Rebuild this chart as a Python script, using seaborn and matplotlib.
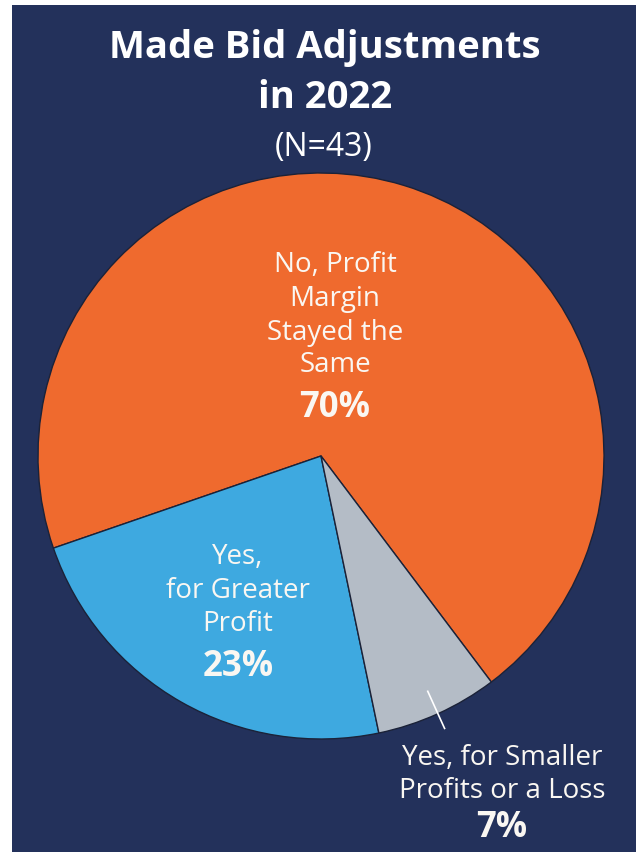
import matplotlib
matplotlib.use("Agg")
import matplotlib.pyplot as plt
import matplotlib.patches as mpatches
import numpy as np
import seaborn as sns

# Survey responses
categories = [
    "No, Profit Margin Stayed the Same",
    "Yes, for Greater Profit",
    "Yes, for Smaller Profits or a Loss",
]
shares = [70, 23, 7]
colors = ["#EF6A2E", "#3EA9E0", "#B4BCC6"]
title_lines = ["Made Bid Adjustments", "in 2022"]
subtitle = "(N=43)"

sns.set_theme(style="white")
plt.rcParams["font.family"] = ["Open Sans", "DejaVu Sans"]

NAVY = "#23315B"
W, H = 636, 852
fig = plt.figure(figsize=(W / 100, H / 100), dpi=100)
fig.patch.set_facecolor("white")

ax = fig.add_axes([0, 0, 1, 1])
ax.patch.set_alpha(0)


def py(y):
    # pixel row (from top) to data y
    return H - y


cx, cy, R = 321, py(456), 283
start = 307
wedges, _ = ax.pie(shares, colors=colors, startangle=start, counterclock=True,
                   center=(cx, cy), radius=R, frame=True,
                   wedgeprops=dict(edgecolor="#1B2238", linewidth=1.0))
ax.set_xlim(0, W)
ax.set_ylim(0, H)
ax.set_aspect("equal")
ax.axis("off")

# navy panel behind the pie
ax.add_patch(mpatches.Rectangle((12, 0), W - 12, H - 5, facecolor=NAVY,
                                edgecolor="none", zorder=0))

TXT = "#FAF7F2"

# title
ax.text(325, py(58), title_lines[0], ha="center", va="baseline", color="white",
        fontsize=27.5, fontweight="bold")
ax.text(325, py(108), title_lines[1], ha="center", va="baseline", color="white",
        fontsize=27.5, fontweight="bold")
ax.text(324, py(156), subtitle, ha="center", va="baseline", color="white",
        fontsize=23)


def label(x, lines, baselines, pct, pct_base, size=20, pct_size=25):
    for s, b in zip(lines, baselines):
        ax.text(x, py(b), s, ha="center", va="baseline", color=TXT, fontsize=size)
    ax.text(x, py(pct_base), f"{pct}%", ha="center", va="baseline", color=TXT,
            fontsize=pct_size, fontweight="bold")


label(335, ["No, Profit", "Margin", "Stayed the", "Same"], [272, 306, 340, 372],
      shares[0], 417)
label(238, ["Yes,", "for Greater", "Profit"], [564, 598, 631], shares[1], 676)
label(502, ["Yes, for Smaller", "Profits or a Loss"], [765, 798], shares[2], 837)

# leader line for the small slice
th = np.deg2rad((wedges[2].theta1 + wedges[2].theta2) / 2)
r0, r1 = 0.91 * R, 1.06 * R
ax.plot([cx + r0 * np.cos(th), cx + r1 * np.cos(th)],
        [cy + r0 * np.sin(th), cy + r1 * np.sin(th)],
        color="white", linewidth=1.2, solid_capstyle="butt")

fig.savefig("out.png", dpi=100, facecolor=fig.get_facecolor())
